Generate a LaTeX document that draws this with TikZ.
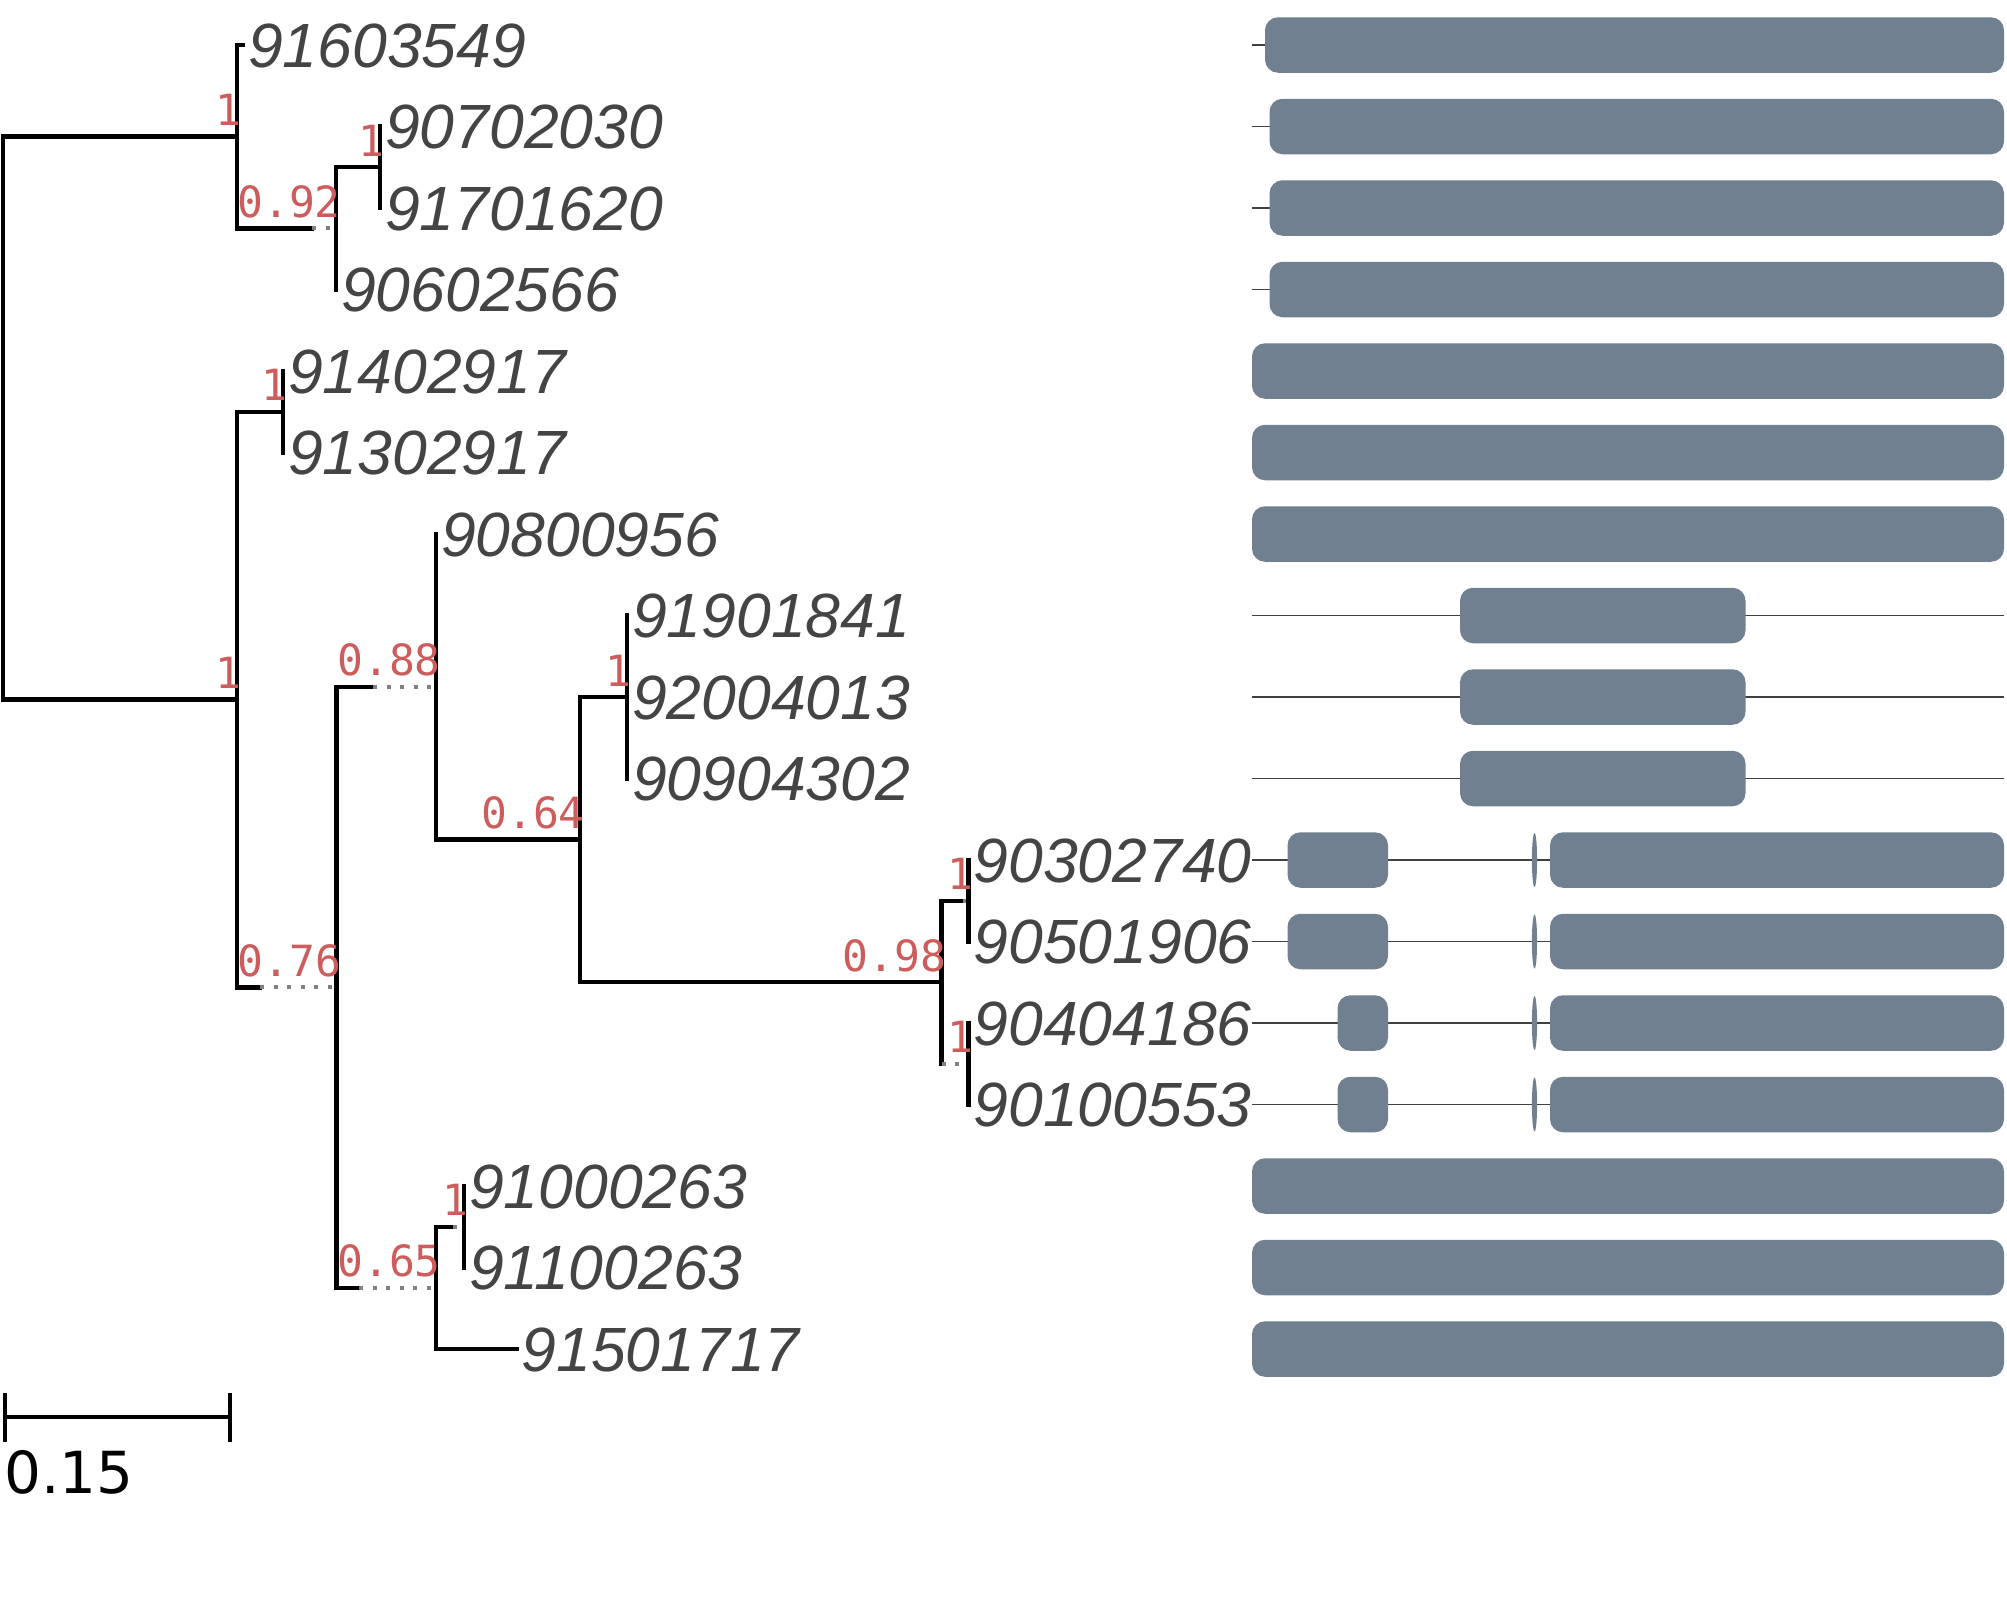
\documentclass[tikz,border=0pt]{standalone}
\usepackage{fontspec}
\setmainfont{Liberation Sans}
\newfontfamily\leaffont{Liberation Sans}
\newfontfamily\supfont{DejaVu Sans Mono}
\newfontfamily\dvsfont{DejaVu Sans}
\definecolor{leafgray}{RGB}{68,68,68}
\definecolor{supred}{RGB}{205,92,92}
\definecolor{exon}{RGB}{112,128,144}
\definecolor{extgray}{RGB}{128,128,128}
\begin{document}
\begin{tikzpicture}[x=1pt,y=-1pt,
  br/.style={line width=4.4pt, black, line cap=rect},
  ext/.style={line width=4pt, extgray, dash pattern=on 4pt off 9.5pt},
  leaf/.style={anchor=base west, inner sep=0pt, text=leafgray, font=\leaffont\itshape\fontsize{62.5}{72}\selectfont},
  sup/.style={anchor=base east, inner sep=0pt, text=supred, font=\supfont\fontsize{43}{50}\selectfont},
  intron/.style={line width=1.6pt, black!75},
  exonbox/.style={fill=exon, rounded corners=13pt},
  sliver/.style={fill=exon}
]
\useasboundingbox (0,0) rectangle (2007,1620);

% internal nodes
\coordinate (R) at (3,418.12);
\coordinate (A) at (237,136.69);
\coordinate (Bs) at (312,228.375);
\coordinate (B) at (336,228.375);
\coordinate (C) at (380,167.25);
\coordinate (D) at (237,699.55);
\coordinate (E) at (283,411.75);
\coordinate (Fs) at (260,987.34);
\coordinate (F) at (336.5,987.34);
\coordinate (Gs) at (373,686.81);
\coordinate (G) at (436,686.81);
\coordinate (I) at (580,839.625);
\coordinate (J) at (627,697);
\coordinate (K) at (941.5,982.25);
\coordinate (Ls) at (963,900.75);
\coordinate (L) at (968.5,900.75);
\coordinate (Ms) at (941.5,1063.75);
\coordinate (M) at (968.5,1063.75);
\coordinate (Hs) at (359,1287.875);
\coordinate (H) at (436,1287.875);
\coordinate (Ns) at (453,1226.75);
\coordinate (N) at (464,1226.75);

% leaf tips
\coordinate (t0) at (243,45);
\coordinate (t1) at (380,126.5);
\coordinate (t2) at (380,208);
\coordinate (t3) at (336,289.5);
\coordinate (t4) at (283,371);
\coordinate (t5) at (283,452.5);
\coordinate (t6) at (436,534);
\coordinate (t7) at (627,615.5);
\coordinate (t8) at (627,697);
\coordinate (t9) at (627,778.5);
\coordinate (t10) at (968.5,860);
\coordinate (t11) at (968.5,941.5);
\coordinate (t12) at (968.5,1023);
\coordinate (t13) at (968.5,1104.5);
\coordinate (t14) at (464,1186);
\coordinate (t15) at (464,1267.5);
\coordinate (t16) at (516.5,1349);

% branches
\draw[br] (R) |- (A);
\draw[br] (R) |- (D);
\draw[br] (A) |- (t0);
\draw[br] (A) |- (Bs);
\draw[ext] (Bs) -- (B);
\draw[br] (B) |- (C);
\draw[br] (B) |- (t3);
\draw[br] (C) |- (t1);
\draw[br] (C) |- (t2);
\draw[br] (D) |- (E);
\draw[br] (D) |- (Fs);
\draw[ext] (Fs) -- (F);
\draw[br] (E) |- (t4);
\draw[br] (E) |- (t5);
\draw[br] (F) |- (Gs);
\draw[ext] (Gs) -- (G);
\draw[br] (F) |- (Hs);
\draw[ext] (Hs) -- (H);
\draw[br] (G) |- (t6);
\draw[br] (G) |- (I);
\draw[br] (I) |- (J);
\draw[br] (I) |- (K);
\draw[br] (J) |- (t7);
\draw[br] (J) |- (t9);
\draw[br] (K) |- (Ls);
\draw[ext] (Ls) -- (L);
\draw[br] (K) |- (Ms);
\draw[ext] (Ms) -- (M);
\draw[br] (L) |- (t10);
\draw[br] (L) |- (t11);
\draw[br] (M) |- (t12);
\draw[br] (M) |- (t13);
\draw[br] (H) |- (Ns);
\draw[ext] (Ns) -- (N);
\draw[br] (H) |- (t16);
\draw[br] (N) |- (t14);
\draw[br] (N) |- (t15);

% support values
\node[sup] (sA) at ([xshift=5pt,yshift=11pt]A) {1};
\node[sup] (sB) at ([xshift=5pt,yshift=11pt]B) {0.92};
\node[sup] (sC) at ([xshift=5pt,yshift=11pt]C) {1};
\node[sup] (sD) at ([xshift=5pt,yshift=11pt]D) {1};
\node[sup] (sE) at ([xshift=5pt,yshift=11pt]E) {1};
\node[sup] (sF) at ([xshift=5pt,yshift=11pt]F) {0.76};
\node[sup] (sG) at ([xshift=5pt,yshift=11pt]G) {0.88};
\node[sup] (sI) at ([xshift=5pt,yshift=11pt]I) {0.64};
\node[sup] (sJ) at ([xshift=5pt,yshift=11pt]J) {1};
\node[sup] (sK) at ([xshift=5pt,yshift=11pt]K) {0.98};
\node[sup] (sL) at ([xshift=5pt,yshift=11pt]L) {1};
\node[sup] (sM) at ([xshift=5pt,yshift=11pt]M) {1};
\node[sup] (sH) at ([xshift=5pt,yshift=11pt]H) {0.65};
\node[sup] (sN) at ([xshift=5pt,yshift=11pt]N) {1};

% leaf labels
\node[leaf] (n0) at ([xshift=5pt,yshift=-22pt]t0) {91603549};
\node[leaf] (n1) at ([xshift=5pt,yshift=-22pt]t1) {90702030};
\node[leaf] (n2) at ([xshift=5pt,yshift=-22pt]t2) {91701620};
\node[leaf] (n3) at ([xshift=5pt,yshift=-22pt]t3) {90602566};
\node[leaf] (n4) at ([xshift=5pt,yshift=-22pt]t4) {91402917};
\node[leaf] (n5) at ([xshift=5pt,yshift=-22pt]t5) {91302917};
\node[leaf] (n6) at ([xshift=5pt,yshift=-22pt]t6) {90800956};
\node[leaf] (n7) at ([xshift=5pt,yshift=-22pt]t7) {91901841};
\node[leaf] (n8) at ([xshift=5pt,yshift=-22pt]t8) {92004013};
\node[leaf] (n9) at ([xshift=5pt,yshift=-22pt]t9) {90904302};
\node[leaf] (n10) at ([xshift=5pt,yshift=-22pt]t10) {90302740};
\node[leaf] (n11) at ([xshift=5pt,yshift=-22pt]t11) {90501906};
\node[leaf] (n12) at ([xshift=5pt,yshift=-22pt]t12) {90404186};
\node[leaf] (n13) at ([xshift=5pt,yshift=-22pt]t13) {90100553};
\node[leaf] (n14) at ([xshift=5pt,yshift=-22pt]t14) {91000263};
\node[leaf] (n15) at ([xshift=5pt,yshift=-22pt]t15) {91100263};
\node[leaf] (n16) at ([xshift=5pt,yshift=-22pt]t16) {91501717};

% gene structures
\def\hh{27.75}
% rows 0-3
\draw[intron] (1252,45) -- (1265,45);
\fill[exonbox] (1265,45-\hh) rectangle (2004,45+\hh);
\foreach \y in {126.5,208,289.5}{
  \draw[intron] (1252,\y) -- (1269.5,\y);
  \fill[exonbox] (1269.5,\y-\hh) rectangle (2004,\y+\hh);
}
% full rows
\foreach \y in {371,452.5,534,1186,1267.5,1349}{
  \fill[exonbox] (1252,\y-\hh) rectangle (2004,\y+\hh);
}
% rows 7-9
\foreach \y in {615.5,697,778.5}{
  \draw[intron] (1252,\y) -- (2004,\y);
  \fill[exonbox] (1460,\y-\hh) rectangle (1745.5,\y+\hh);
}
% rows 10-11
\foreach \y in {860,941.5}{
  \draw[intron] (1252,\y) -- (1550,\y);
  \fill[exonbox] (1287.5,\y-\hh) rectangle (1388,\y+\hh);
  \fill[sliver] (1534.5,\y) ellipse [x radius=2.6pt, y radius=27pt];
  \fill[exonbox] (1550,\y-\hh) rectangle (2004,\y+\hh);
}
% rows 12-13
\foreach \y in {1023,1104.5}{
  \draw[intron] (1252,\y) -- (1550,\y);
  \fill[exonbox] (1337.5,\y-\hh) rectangle (1388,\y+\hh);
  \fill[sliver] (1534.5,\y) ellipse [x radius=2.6pt, y radius=27pt];
  \fill[exonbox] (1550,\y-\hh) rectangle (2004,\y+\hh);
}

% scale bar
\coordinate (sb1) at (5,1417);
\coordinate (sb2) at (230,1417);
\draw[line width=4pt] (sb1) -- (sb2);
\draw[line width=4pt] ([yshift=24pt]sb1) -- ([yshift=-25pt]sb1);
\draw[line width=4pt] ([yshift=24pt]sb2) -- ([yshift=-25pt]sb2);
\node[anchor=base west, inner sep=0pt, font=\dvsfont\fontsize{58}{66}\selectfont] (sbl) at (4,1493) {0.15};
\end{tikzpicture}
\end{document}
